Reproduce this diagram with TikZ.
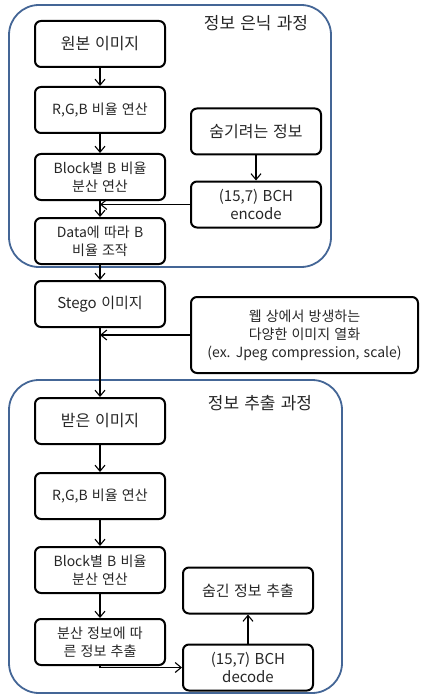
\documentclass[tikz,border=0pt]{standalone}
\usepackage{fontspec}
\setmainfont[WordSpace={1.35,0.3,0.2}]{Noto Sans CJK KR}
\usetikzlibrary{arrows.meta,positioning}
\definecolor{framecol}{RGB}{68,102,150}

\begin{document}
\begin{tikzpicture}[x=1pt,y=-1pt,>={Straight Barb[length=6pt,width=10pt]},
  box/.style={draw,line width=2pt,rounded corners=6pt,minimum width=130pt,
    minimum height=46pt,align=center,inner sep=1pt,text=black!85,
    font=\fontsize{14}{18}\selectfont},
  bigbox/.style={box,font=\fontsize{16}{19}\selectfont},
  group/.style={draw=framecol,line width=1.8pt,rounded corners=30pt},
  title/.style={text=black!85,font=\fontsize{17}{20}\selectfont},
  flow/.style={->,line width=1.1pt}]
\useasboundingbox (0,0) rectangle (420,695);

% hiding stage
\draw[group] (9,5) rectangle (331,267);
\node[title] (hidetitle) at (256,23) {정보 은닉 과정};
\node[bigbox] (orig) at (100,44) {원본 이미지};
\node[box] (rgb) [below=18pt of orig] {R,G,B 비율 연산};
\node[box] (blockvar) [below=19pt of rgb] {Block별 B 비율\\분산 연산};
\node[box] (embed) [below=16pt of blockvar] {Data에 따라 B\\비율 조작};
\node[bigbox] (secret) at (256,131.5) {숨기려는 정보};
\node[box,font=\fontsize{15}{18}\selectfont] (encode) [below=25pt of secret] {(15,7) BCH\\encode};
\node[box,font=\fontsize{15}{19}\selectfont] (stego) [below=15pt of embed] {Stego 이미지};

% attack on the web
\node[box,minimum width=227pt,minimum height=76pt] (attack) at (304.5,335)
  {웹 상에서 방생하는\\다양한 이미지 열화\\(ex. Jpeg compression, scale)};

% extraction stage
\draw[group] (9,380) rectangle (342,693);
\node[title] (gettitle) at (260,403) {정보 추출 과정};
\node[bigbox] (recv) [below=69pt of stego] {받은 이미지};
\node[box] (rgbb) [below=27pt of recv] {R,G,B 비율 연산};
\node[box] (blockvarb) [below=26pt of rgbb] {Block별 B 비율\\분산 연산};
\node[box] (extract) [below=24pt of blockvarb] {분산 정보에 따\\른 정보 추출};
\node[box,font=\fontsize{15}{18}\selectfont] (hidden) at (248,590.5) {숨긴 정보 추출};
\node[box,font=\fontsize{15}{18}\selectfont] (decode) [below=29pt of hidden] {(15,7) BCH\\decode};

\draw[flow] (orig) -- (rgb);
\draw[flow] (rgb) -- (blockvar);
\draw[flow] (blockvar) -- (embed);
\draw[flow] (secret) -- (encode);
\draw[flow] (encode.west) -- (encode.west -| embed.north);
\draw[flow] (embed) -- (stego);
\draw[flow] (attack.west) -- (attack.west -| stego.south);
\draw[flow] (stego) -- (recv);
\draw[flow] (recv) -- (rgbb);
\draw[flow] (rgbb) -- (blockvarb);
\draw[flow] (blockvarb) -- (extract);
\draw[flow] (extract.south) |- (decode.west);
\draw[flow] (decode) -- (hidden);
\end{tikzpicture}
\end{document}
